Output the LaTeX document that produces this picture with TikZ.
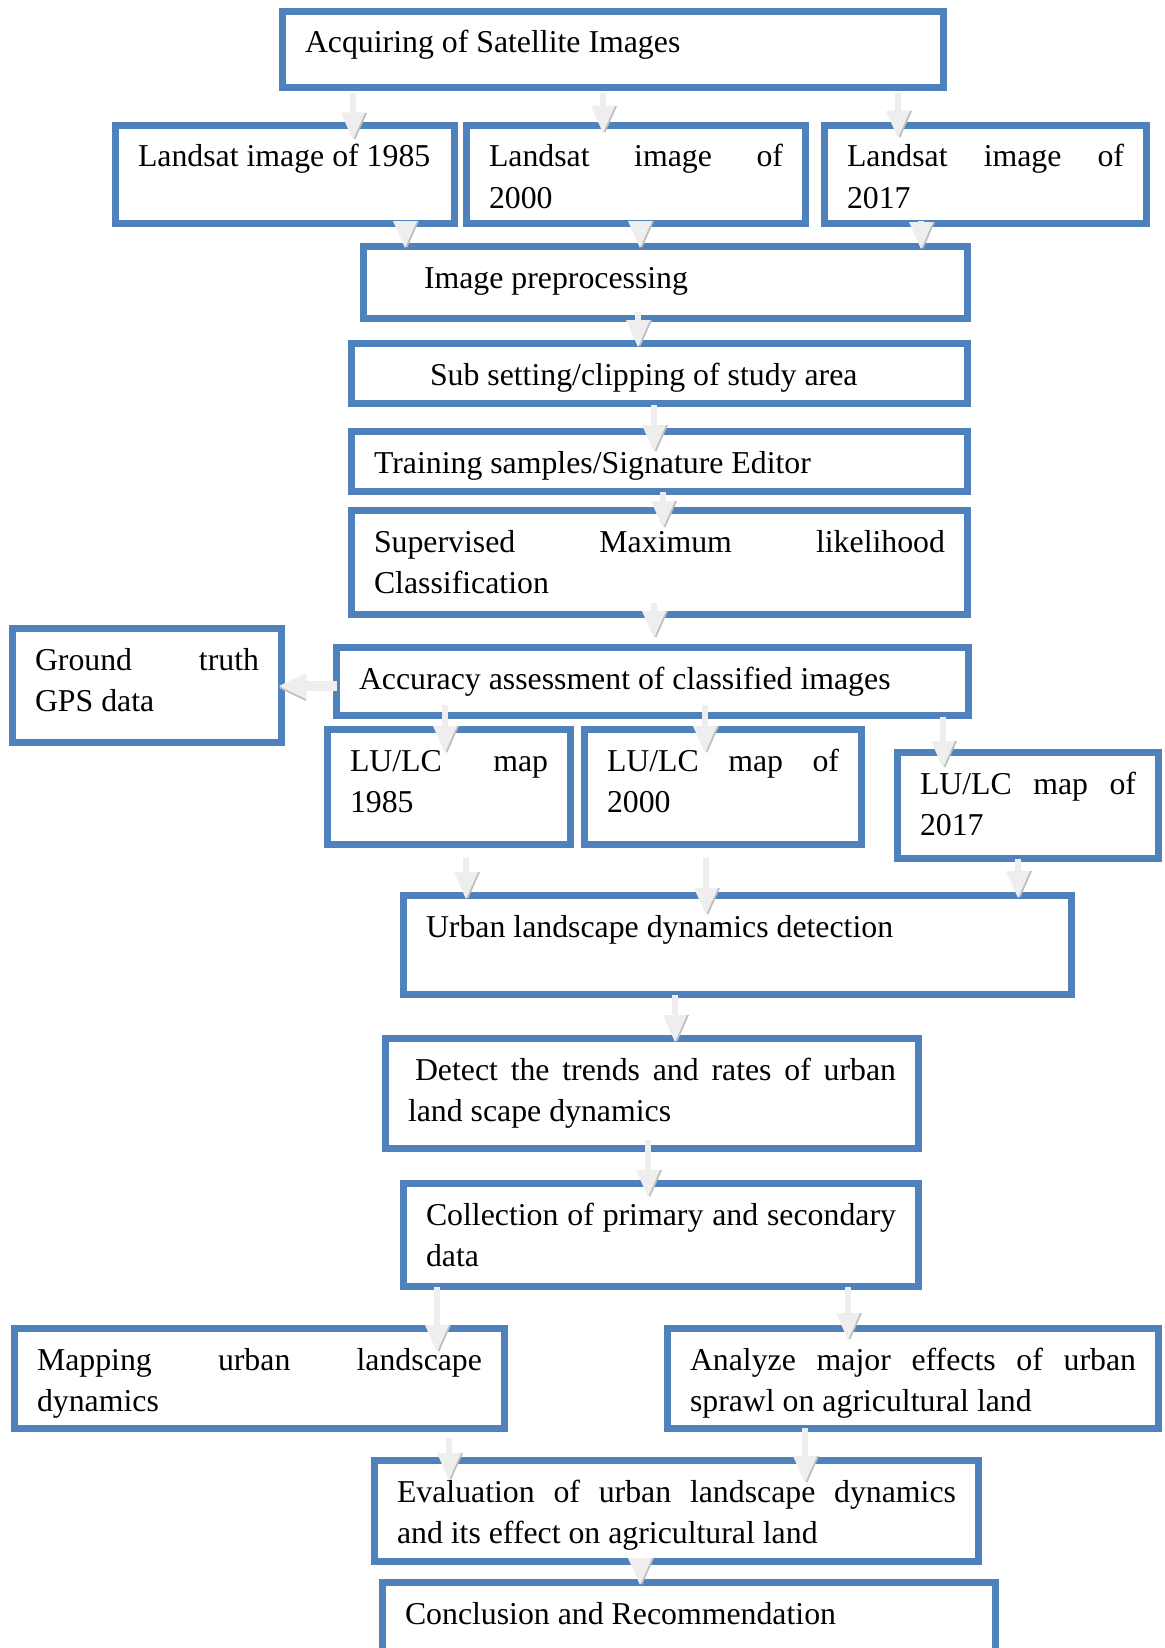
\documentclass[tikz,border=0pt]{standalone}
\usepackage{fontspec}
\setmainfont{Liberation Serif}
\usepackage{tikz}
\usetikzlibrary{arrows.meta, calc}
\definecolor{boxBlue}{HTML}{4F81BD}
\definecolor{arrowLight}{HTML}{EEEEEE}
\definecolor{arrowShade}{HTML}{BDBDBD}

\begin{document}
\begin{tikzpicture}[x=1pt, y=-1pt,
  flowbox/.style={draw=boxBlue, line width=7pt, fill=white, anchor=north west,
    inner xsep=22.5pt, inner ysep=0pt, outer sep=0pt, align=left,
    text height=41.5pt, font=\fontsize{31.8}{41.8}\selectfont,
    execute at begin node={\spaceskip=0pt\xspaceskip=0pt}},
  blockarrow/.style={draw=arrowLight, line width=6pt,
    -{Triangle[width=24pt, length=27pt, line width=0pt]},
    preaction={draw=arrowShade, transform canvas={xshift=2pt}}},
  blockarrowh/.style={draw=arrowLight, line width=10pt,
    -{Triangle[width=26pt, length=27pt, line width=0pt]},
    preaction={draw=arrowShade, transform canvas={yshift=-2pt}}}]
\useasboundingbox (0,0) rectangle (1164,1648);
\clip (0,0) rectangle (1164,1648);

% --- Satellite data ---
\node[flowbox, text width=616pt, text depth=34.5pt] (acq) at (282.5,11.5) {Acquiring of Satellite Images};
\node[flowbox, text width=294pt, text depth=56.5pt] (ls85) at (115.5,125.5) {\mbox{Landsat image of 1985}};
\node[flowbox, text width=294pt, text depth=56.5pt] (ls00) at (466.5,125.5) {\makebox[\hsize][s]{Landsat image of}\\2000};
\node[flowbox, text width=277pt, text depth=56.5pt] (ls17) at (824.5,125.5) {\makebox[\hsize][s]{Landsat image of}\\2017};

% --- Processing and classification ---
\node[flowbox, text width=559pt, text depth=30.5pt] (prep) at (363.5,246.5) {\hspace*{38pt}Image preprocessing};
\node[flowbox, text width=571pt, text depth=18.5pt] (sub) at (351.5,343.5) {\hspace*{56pt}Sub setting/clipping of study area};
\node[flowbox, text width=571pt, text depth=18.5pt] (train) at (351.5,431.5) {Training samples/Signature Editor};
\node[flowbox, text width=571pt, text depth=62.5pt] (sup) at (351.5,510.5) {\makebox[\hsize][s]{Supervised Maximum likelihood}\\Classification};
\node[flowbox, text width=224pt, text depth=72.5pt] (gps) at (12.5,628.5) {\makebox[\hsize][s]{Ground truth}\\GPS data};
\node[flowbox, text width=587pt, text depth=26.5pt] (acc) at (336.5,647.5) {Accuracy assessment of classified images};

% --- LU/LC maps ---
\node[flowbox, text width=198pt, text depth=73.5pt] (lu85) at (327.5,729.5) {\makebox[\hsize][s]{LU/LC map}\\1985};
\node[flowbox, text width=232pt, text depth=73.5pt] (lu00) at (584.5,729.5) {\makebox[\hsize][s]{LU/LC map of}\\2000};
\node[flowbox, text width=216pt, text depth=64.5pt] (lu17) at (897.5,752.5) {\makebox[\hsize][s]{LU/LC map of}\\2017};

% --- Change analysis ---
\node[flowbox, text width=623pt, text depth=57.5pt] (urb) at (403.5,895.5) {Urban landscape dynamics detection};
\node[flowbox, text width=488pt, text depth=68.5pt] (det) at (385.5,1038.5) {\makebox[\hsize][s]{\hspace*{7pt}Detect the trends and rates of urban}\\land scape dynamics};
\node[flowbox, text width=470pt, text depth=61.5pt] (col) at (403.5,1183.5) {\makebox[\hsize][s]{Collection of primary and secondary}\\data};
\node[flowbox, text width=445pt, text depth=58.5pt] (map) at (14.5,1328.5) {\makebox[\hsize][s]{Mapping urban landscape}\\dynamics};
\node[flowbox, text width=446pt, text depth=58.5pt] (ana) at (667.5,1328.5) {\makebox[\hsize][s]{Analyze major effects of urban}\\sprawl on agricultural land};
\node[flowbox, text width=559pt, text depth=59.5pt] (eva) at (374.5,1460.5) {\makebox[\hsize][s]{Evaluation of urban landscape dynamics}\\and its effect on agricultural land};
\node[flowbox, text width=568pt, text depth=92.5pt] (con) at (382.5,1582.5) {Conclusion and Recommendation};

% --- Block arrows ---
\draw[blockarrow] ([xshift=70.5pt,yshift=-5.5pt]acq.south west) -- ([xshift=70.5pt,yshift=-14.5pt]acq.south west |- ls85.north);
\draw[blockarrow] ([xshift=320.5pt,yshift=-5.5pt]acq.south west) -- ([xshift=320.5pt,yshift=-7.5pt]acq.south west |- ls00.north);
\draw[blockarrow] ([xshift=615.5pt,yshift=-5.5pt]acq.south west) -- ([xshift=615.5pt,yshift=-12.5pt]acq.south west |- ls17.north);
\draw[blockarrow] ([xshift=289.5pt,yshift=3pt]ls85.south west) -- ([xshift=289.5pt,yshift=-1.5pt]ls85.south west |- prep.north);
\draw[blockarrow] ([xshift=173.5pt,yshift=3pt]ls00.south west) -- ([xshift=173.5pt,yshift=-1.5pt]ls00.south west |- prep.north);
\draw[blockarrow] ([xshift=96.5pt,yshift=3pt]ls17.south west) -- ([xshift=96.5pt,yshift=-2.5pt]ls17.south west |- prep.north);
\draw[blockarrow] ([xshift=274.5pt,yshift=6.5pt]prep.south west) -- ([xshift=274.5pt,yshift=-3.5pt]prep.south west |- sub.north);
\draw[blockarrow] ([xshift=302.5pt,yshift=-1.5pt]sub.south west) -- ([xshift=302.5pt,yshift=-20.5pt]sub.south west |- train.north);
\draw[blockarrow] ([xshift=311.5pt,yshift=-0.5pt]train.south west) -- ([xshift=311.5pt,yshift=-17.5pt]train.south west |- sup.north);
\draw[blockarrow] ([xshift=302.5pt,yshift=11.5pt]sup.south west) -- ([xshift=302.5pt,yshift=9.5pt]sup.south west |- acc.north);
\draw[blockarrowh] ([yshift=-4.5pt]acc.west) -- ([xshift=-2.5pt,yshift=-4.5pt]acc.west -| gps.east);
\draw[blockarrow] ([xshift=108.5pt,yshift=10.5pt]acc.south west) -- ([xshift=108.5pt,yshift=-23.5pt]acc.south west |- lu85.north);
\draw[blockarrow] ([xshift=368.5pt,yshift=10.5pt]acc.south west) -- ([xshift=368.5pt,yshift=-23.5pt]acc.south west |- lu00.north);
\draw[blockarrow] ([xshift=606.5pt,yshift=-1.5pt]acc.south west) -- ([xshift=606.5pt,yshift=-15.5pt]acc.south west |- lu17.north);
\draw[blockarrow] ([xshift=138.5pt,yshift=-13.5pt]lu85.south west) -- ([xshift=138.5pt,yshift=-3.5pt]lu85.south west |- urb.north);
\draw[blockarrow] ([xshift=121.5pt,yshift=-13.5pt]lu00.south west) -- ([xshift=121.5pt,yshift=-19.5pt]lu00.south west |- urb.north);
\draw[blockarrow] ([xshift=120.5pt]lu17.south west) -- ([xshift=120.5pt,yshift=-2.5pt]lu17.south west |- urb.north);
\draw[blockarrow] ([xshift=271.5pt,yshift=-0.5pt]urb.south west) -- ([xshift=271.5pt,yshift=-3.5pt]urb.south west |- det.north);
\draw[blockarrow] ([xshift=262.5pt,yshift=8.5pt]det.south west) -- ([xshift=262.5pt,yshift=-13.5pt]det.south west |- col.north);
\draw[blockarrow] ([xshift=33.5pt,yshift=-0.5pt]col.south west) -- ([xshift=33.5pt,yshift=-23.5pt]col.south west |- map.north);
\draw[blockarrow] ([xshift=444.5pt,yshift=-0.5pt]col.south west) -- ([xshift=444.5pt,yshift=-11.5pt]col.south west |- ana.north);
\draw[blockarrow] ([xshift=434.5pt,yshift=-9.5pt]map.south west) -- ([xshift=434.5pt,yshift=-19.5pt]map.south west |- eva.north);
\draw[blockarrow] ([xshift=137.5pt,yshift=0.5pt]ana.south west) -- ([xshift=137.5pt,yshift=-22.5pt]ana.south west |- eva.north);
\draw[blockarrow] ([xshift=265.5pt,yshift=3pt]eva.south west) -- ([xshift=265.5pt,yshift=-2.5pt]eva.south west |- con.north);
\end{tikzpicture}
\end{document}
